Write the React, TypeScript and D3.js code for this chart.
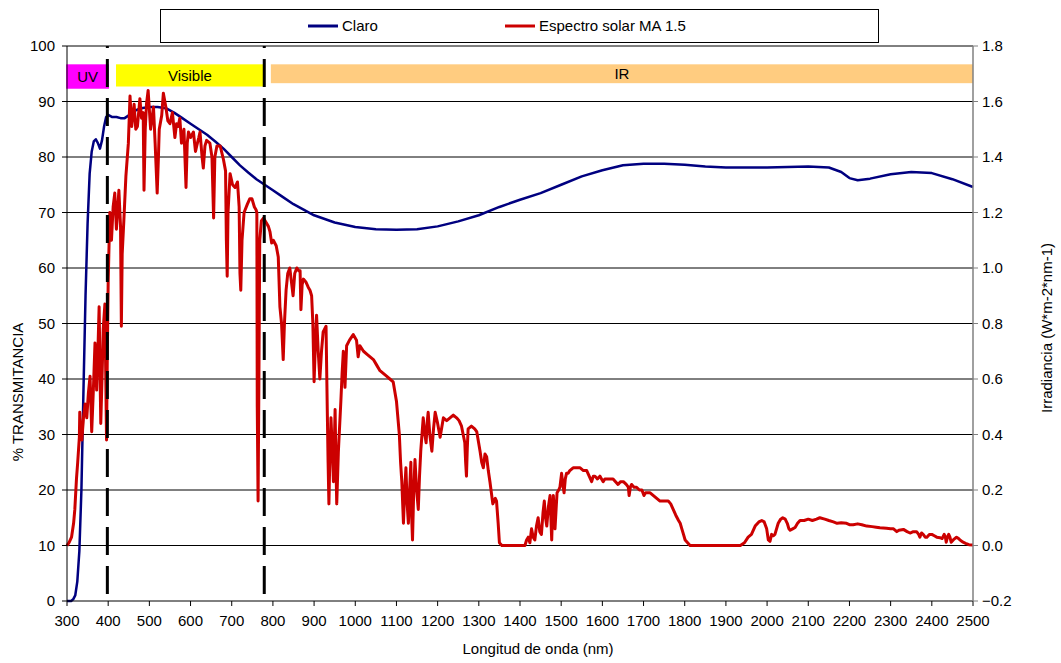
import React from "react";
import * as d3 from "d3";

const W = 1061;
const H = 663;
const plot = { left: 67, right: 973, top: 46, bottom: 601 };
const FONT = "'Liberation Sans', Arial, sans-serif";

// Claro: % transmitancia vs longitud de onda (nm)
const claroData: [number, number][] = [
  [300, 0], [310, 0], [315, 0.3], [320, 1], [325, 3.5], [330, 9], [335, 20], [340, 38],
  [345, 55], [350, 68], [355, 77], [360, 81], [365, 82.8], [370, 83.2], [375, 82.5],
  [380, 81.5], [385, 83], [390, 85.5], [395, 87.2], [400, 87.6], [410, 87.2], [420, 87.2],
  [430, 87], [440, 87], [450, 87.5], [460, 88.2], [480, 88.8], [500, 89], [520, 89],
  [540, 88.8], [560, 88], [580, 87], [600, 86], [620, 85], [640, 84], [660, 82.8],
  [680, 81.5], [700, 80], [720, 78.5], [740, 77.2], [760, 76], [780, 75], [800, 74],
  [820, 73], [850, 71.5], [900, 69.5], [950, 68.2], [1000, 67.4], [1050, 67], [1100, 66.9],
  [1150, 67], [1200, 67.5], [1250, 68.4], [1300, 69.5], [1350, 71], [1400, 72.3],
  [1450, 73.5], [1500, 75], [1550, 76.5], [1600, 77.6], [1650, 78.5], [1700, 78.8],
  [1750, 78.8], [1800, 78.6], [1850, 78.3], [1900, 78.1], [1950, 78.1], [2000, 78.1],
  [2050, 78.2], [2100, 78.3], [2150, 78.1], [2180, 77.3], [2200, 76.2], [2220, 75.8],
  [2250, 76.1], [2300, 76.9], [2350, 77.3], [2400, 77.1], [2450, 76], [2500, 74.6],
];

// Espectro solar MA 1.5: irradiancia (W*m-2*nm-1) vs longitud de onda (nm)
const solarData: [number, number][] = [
  [300, 0.0], [305, 0.01], [311, 0.03], [316, 0.08], [319, 0.13], [323, 0.24], [326, 0.3],
  [330, 0.39], [331, 0.48], [333, 0.42], [336, 0.38], [340, 0.46], [344, 0.51], [348, 0.46],
  [352, 0.55], [356, 0.61], [360, 0.41], [364, 0.56], [368, 0.73], [372, 0.56], [375, 0.7],
  [378, 0.86], [382, 0.44], [385, 0.6], [388, 0.78], [392, 0.87], [396, 0.38], [398, 0.7],
  [400, 0.95], [404, 1.2], [408, 1.1], [412, 1.22], [416, 1.27], [420, 1.14], [426, 1.28],
  [430, 1.15], [432, 0.79], [434, 1.05], [438, 1.17], [443, 1.33], [449, 1.45], [453, 1.62],
  [457, 1.51], [463, 1.59], [467, 1.5], [471, 1.51], [477, 1.61], [481, 1.54], [485, 1.56],
  [487, 1.28], [490, 1.5], [493, 1.59], [497, 1.64], [503, 1.5], [510, 1.58], [514, 1.45],
  [519, 1.27], [522, 1.4], [524, 1.5], [530, 1.55], [534, 1.63], [540, 1.58], [545, 1.53],
  [550, 1.52], [556, 1.56], [562, 1.47], [566, 1.52], [570, 1.51], [574, 1.54], [578, 1.45],
  [584, 1.5], [589, 1.29], [592, 1.45], [595, 1.49], [600, 1.47], [607, 1.49], [612, 1.42],
  [615, 1.44], [620, 1.47], [623, 1.49], [628, 1.4], [631, 1.36], [635, 1.44], [639, 1.46],
  [647, 1.45], [652, 1.4], [656, 1.18], [659, 1.4], [664, 1.44], [672, 1.44], [680, 1.39],
  [685, 1.35], [687, 1.1], [689, 0.97], [691, 1.2], [696, 1.34], [702, 1.3], [708, 1.29],
  [714, 1.31], [718, 1.22], [720, 0.98], [722, 0.92], [725, 1.1], [730, 1.2], [738, 1.23],
  [744, 1.25], [749, 1.25], [755, 1.22], [759, 1.21], [761, 1.2], [762, 0.5], [764, 0.16],
  [766, 0.6], [768, 1.1], [772, 1.17], [777, 1.18], [781, 1.17], [789, 1.15], [793, 1.13],
  [797, 1.09], [801, 1.1], [808, 1.08], [813, 1.04], [817, 0.86], [821, 0.8], [825, 0.67],
  [828, 0.8], [832, 0.92], [836, 0.98], [841, 1.0], [845, 0.95], [849, 0.9], [853, 0.98],
  [858, 1.0], [863, 0.99], [866, 0.99], [868, 0.85], [871, 0.94], [874, 0.96], [880, 0.95],
  [886, 0.93], [890, 0.92], [894, 0.9], [897, 0.8], [900, 0.59], [903, 0.72], [906, 0.83],
  [910, 0.7], [914, 0.6], [918, 0.7], [922, 0.77], [929, 0.79], [932, 0.49], [934, 0.3],
  [936, 0.15], [938, 0.3], [941, 0.46], [944, 0.35], [947, 0.23], [951, 0.49], [953, 0.3],
  [955, 0.15], [959, 0.34], [965, 0.52], [968, 0.62], [971, 0.7], [975, 0.57], [979, 0.72],
  [986, 0.74], [995, 0.76], [1003, 0.74], [1007, 0.68], [1011, 0.72], [1020, 0.7],
  [1028, 0.69], [1036, 0.68], [1044, 0.67], [1052, 0.65], [1060, 0.63], [1068, 0.62],
  [1076, 0.61], [1084, 0.6], [1092, 0.59], [1100, 0.52], [1107, 0.4], [1110, 0.3],
  [1113, 0.23], [1117, 0.08], [1120, 0.2], [1123, 0.28], [1126, 0.15], [1129, 0.08],
  [1132, 0.2], [1135, 0.3], [1137, 0.1], [1139, 0.02], [1142, 0.2], [1145, 0.31],
  [1149, 0.2], [1153, 0.13], [1156, 0.25], [1159, 0.34], [1165, 0.46], [1169, 0.4],
  [1172, 0.37], [1175, 0.45], [1177, 0.48], [1181, 0.4], [1186, 0.34], [1190, 0.42],
  [1194, 0.48], [1200, 0.44], [1206, 0.39], [1214, 0.46], [1222, 0.45], [1230, 0.46],
  [1238, 0.47], [1246, 0.46], [1252, 0.45], [1258, 0.43], [1262, 0.4], [1266, 0.37],
  [1268, 0.3], [1270, 0.25], [1272, 0.35], [1274, 0.42], [1282, 0.43], [1290, 0.42],
  [1295, 0.41], [1303, 0.34], [1307, 0.3], [1311, 0.28], [1315, 0.33], [1319, 0.32],
  [1323, 0.27], [1327, 0.23], [1334, 0.15], [1340, 0.17], [1343, 0.16], [1347, 0.08],
  [1350, 0.01], [1356, 0.0], [1412, 0.0], [1416, 0.02], [1420, 0.03], [1424, 0.01],
  [1428, 0.06], [1432, 0.03], [1436, 0.02], [1440, 0.07], [1444, 0.1], [1448, 0.05],
  [1452, 0.04], [1456, 0.12], [1459, 0.16], [1462, 0.1], [1465, 0.07], [1469, 0.14],
  [1473, 0.18], [1475, 0.1], [1477, 0.02], [1479, 0.12], [1481, 0.18], [1483, 0.12],
  [1485, 0.06], [1488, 0.14], [1490, 0.19], [1494, 0.2], [1497, 0.21], [1501, 0.26],
  [1504, 0.22], [1507, 0.19], [1510, 0.24], [1513, 0.26], [1517, 0.26], [1521, 0.27],
  [1529, 0.28], [1538, 0.28], [1546, 0.28], [1554, 0.27], [1562, 0.27], [1568, 0.25],
  [1574, 0.23], [1578, 0.25], [1582, 0.25], [1588, 0.24], [1594, 0.25], [1598, 0.24],
  [1602, 0.23], [1606, 0.24], [1610, 0.24], [1618, 0.24], [1626, 0.24], [1632, 0.23],
  [1638, 0.22], [1644, 0.23], [1651, 0.23], [1658, 0.22], [1663, 0.21], [1665, 0.18],
  [1668, 0.21], [1671, 0.22], [1677, 0.21], [1683, 0.21], [1690, 0.2], [1696, 0.2],
  [1701, 0.18], [1705, 0.19], [1708, 0.19], [1716, 0.19], [1724, 0.18], [1732, 0.17],
  [1740, 0.16], [1750, 0.16], [1760, 0.16], [1766, 0.15], [1772, 0.13], [1778, 0.11],
  [1785, 0.09], [1789, 0.08], [1793, 0.06], [1797, 0.04], [1801, 0.02], [1807, 0.01],
  [1813, 0.0], [1935, 0.0], [1945, 0.01], [1954, 0.03], [1962, 0.04], [1971, 0.07],
  [1980, 0.085], [1987, 0.09], [1993, 0.085], [1999, 0.06], [2003, 0.02], [2007, 0.015],
  [2011, 0.04], [2015, 0.035], [2019, 0.04], [2027, 0.08], [2033, 0.095], [2038, 0.1],
  [2044, 0.095], [2049, 0.08], [2053, 0.06], [2056, 0.055], [2062, 0.06], [2068, 0.065],
  [2074, 0.08], [2080, 0.09], [2090, 0.09], [2100, 0.095], [2110, 0.09], [2120, 0.095],
  [2128, 0.1], [2140, 0.095], [2150, 0.09], [2161, 0.085], [2170, 0.08], [2180, 0.082],
  [2193, 0.08], [2200, 0.075], [2209, 0.075], [2220, 0.078], [2230, 0.075], [2242, 0.07],
  [2255, 0.068], [2265, 0.066], [2274, 0.064], [2290, 0.062], [2300, 0.06], [2307, 0.06],
  [2315, 0.05], [2320, 0.055], [2331, 0.058], [2340, 0.05], [2347, 0.045], [2355, 0.05],
  [2363, 0.05], [2368, 0.04], [2371, 0.03], [2375, 0.045], [2379, 0.04], [2384, 0.03],
  [2388, 0.03], [2394, 0.04], [2400, 0.04], [2406, 0.035], [2412, 0.03], [2420, 0.028],
  [2425, 0.025], [2430, 0.04], [2433, 0.03], [2435, 0.012], [2438, 0.03], [2441, 0.04],
  [2444, 0.03], [2447, 0.012], [2452, 0.02], [2460, 0.03], [2465, 0.025], [2470, 0.018],
  [2476, 0.012], [2482, 0.008], [2490, 0.003], [2500, 0.002],
];

const xTicks = d3.range(300, 2501, 100);
const leftTicks = d3.range(0, 101, 10);
const rightTicks = [-0.2, 0, 0.2, 0.4, 0.6, 0.8, 1.0, 1.2, 1.4, 1.6, 1.8];

// spectral regions drawn as bars at the top of the plot
const bandNames = ["UV", "Visible", "IR"];
const bandStart = [298, 419, 795];
const bandEnd = [402, 778, 2500];
const bandTop = [96.7, 96.7, 96.7];
const bandBottom = [92.3, 92.7, 93.3];
const bandColors = ["#FF00FF", "#FFFF00", "#FFCC80"];

const dividerNm = [398, 779];

const seriesNames = ["Claro", "Espectro solar MA 1.5"];
const seriesColors = ["#000080", "#CC0000"];

export default function App() {
  const x = d3.scaleLinear().domain([300, 2500]).range([plot.left, plot.right]);
  const yL = d3.scaleLinear().domain([0, 100]).range([plot.bottom, plot.top]);
  const yR = d3.scaleLinear().domain([-0.2, 1.8]).range([plot.bottom, plot.top]);

  const claroLine = d3.line<[number, number]>().x(d => x(d[0])).y(d => yL(d[1]));
  const solarLine = d3.line<[number, number]>().x(d => x(d[0])).y(d => yR(d[1]));
  const fmtR = d3.format(".1f");

  const txt = { fontFamily: FONT, fontSize: 15, fill: "#000" };

  return (
    <svg width={W} height={H} style={{ position: "absolute", left: 0, top: 0, background: "#fff" }}>
      {/* gridlines */}
      {leftTicks.filter(t => t > 0).map(t => (
        <line key={"g" + t} x1={plot.left} x2={plot.right} y1={yL(t)} y2={yL(t)} stroke="#000" strokeWidth={1} />
      ))}

      {/* region bars */}
      {bandNames.map((name, i) => (
        <g key={name}>
          <rect x={x(bandStart[i])} y={yL(bandTop[i])} width={x(bandEnd[i]) - x(bandStart[i])}
            height={yL(bandBottom[i]) - yL(bandTop[i])} fill={bandColors[i]} />
          <text x={(x(bandStart[i]) + x(bandEnd[i])) / 2} y={(yL(bandTop[i]) + yL(bandBottom[i])) / 2}
            dy="0.35em" textAnchor="middle" {...txt}>{name}</text>
        </g>
      ))}

      {/* series */}
      <path d={claroLine(claroData) || ""} fill="none" stroke={seriesColors[0]} strokeWidth={2.5} strokeLinejoin="round" />
      <path d={solarLine(solarData) || ""} fill="none" stroke={seriesColors[1]} strokeWidth={3} strokeLinejoin="round" />

      {/* UV / visible / IR limits */}
      {dividerNm.map(nm => (
        <line key={"d" + nm} x1={x(nm)} x2={x(nm)} y1={yL(100)} y2={yL(0)} stroke="#000"
          strokeWidth={3} strokeDasharray="28,11" strokeDashoffset={26} />
      ))}

      {/* left axis */}
      <line x1={plot.left} x2={plot.left} y1={plot.top} y2={plot.bottom} stroke="#000" />
      {leftTicks.map(t => (
        <g key={"l" + t}>
          <line x1={plot.left - 5} x2={plot.left} y1={yL(t)} y2={yL(t)} stroke="#000" />
          <text x={plot.left - 12} y={yL(t)} dy="0.35em" textAnchor="end" {...txt}>{t}</text>
        </g>
      ))}

      {/* bottom axis */}
      <line x1={plot.left} x2={plot.right} y1={plot.bottom} y2={plot.bottom} stroke="#000" />
      {xTicks.map(t => (
        <g key={"x" + t}>
          <line x1={x(t)} x2={x(t)} y1={plot.bottom} y2={plot.bottom + 5} stroke="#000" />
          <text x={x(t)} y={626} textAnchor="middle" {...txt}>{t}</text>
        </g>
      ))}

      {/* right axis */}
      <line x1={plot.right} x2={plot.right} y1={plot.top} y2={plot.bottom} stroke="#808080" strokeWidth={1.5} />
      {rightTicks.map(t => (
        <g key={"r" + t}>
          <line x1={plot.right} x2={plot.right + 5} y1={yR(t)} y2={yR(t)} stroke="#808080" />
          <text x={plot.right + 9} y={yR(t)} dy="0.35em" textAnchor="start" {...txt}>{fmtR(t)}</text>
        </g>
      ))}

      {/* axis titles */}
      <text x={538} y={654} textAnchor="middle" {...txt}>Longitud de onda (nm)</text>
      <text transform="translate(23,392) rotate(-90)" textAnchor="middle" {...txt}>% TRANSMITANCIA</text>
      <text transform="translate(1052,328) rotate(-90)" textAnchor="middle" {...txt}>Irradiancia (W*m-2*nm-1)</text>

      {/* legend */}
      <rect x={160.5} y={9.5} width={718} height={33} fill="#fff" stroke="#000" />
      {seriesNames.map((name, i) => {
        const lx = [308, 505][i];
        return (
          <g key={name}>
            <line x1={lx} x2={lx + 30} y1={26} y2={26} stroke={seriesColors[i]} strokeWidth={3} />
            <text x={lx + 34} y={26} dy="0.35em" {...txt}>{name}</text>
          </g>
        );
      })}
    </svg>
  );
}
